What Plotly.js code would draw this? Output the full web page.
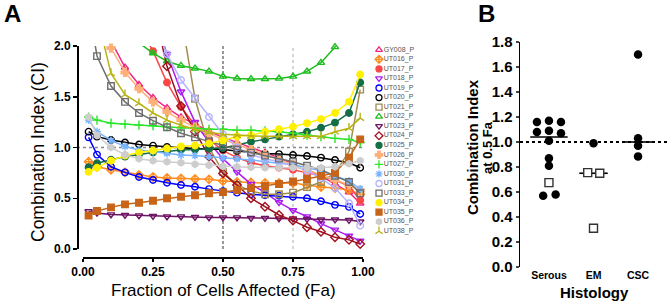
<!DOCTYPE html>
<html>
<head>
<meta charset="utf-8">
<script src="https://cdn.plot.ly/plotly-3.0.1.min.js"></script>
<style>html,body{margin:0;padding:0;background:#fff;}#chart{width:669px;height:301px;}</style>
</head>
<body>
<div id="chart"></div>
<script>
// ---------- Panel A data ----------
const fa = [0.02,0.05,0.10,0.15,0.20,0.25,0.30,0.35,0.40,0.45,0.50,0.55,0.60,0.65,0.70,0.75,0.80,0.85,0.90,0.95,0.99];
const GY008_P = [3.2,2.5,2.05,1.79,1.62,1.49,1.39,1.30,1.23,1.16,1.10,1.05,1.00,0.95,0.90,0.84,0.78,0.72,0.64,0.56,0.45];
const UT016_P = [0.86,0.81,0.78,0.755,0.73,0.71,0.70,0.695,0.69,0.686,0.67,0.66,0.655,0.65,0.65,0.65,0.63,0.61,0.60,0.58,0.54];
const UT017_P = [4.0,3.3,2.8,2.45,2.2,1.95,1.64,1.40,1.22,1.08,0.97,0.90,0.85,0.82,0.80,0.78,0.75,0.72,0.68,0.62,0.48];
const UT018_P = [5.0,4.2,3.6,3.1,2.7,2.35,1.92,1.55,1.25,1.05,0.89,0.76,0.64,0.555,0.46,0.38,0.32,0.25,0.19,0.13,0.08];
const UT019_P = [1.10,0.93,0.81,0.755,0.71,0.68,0.653,0.63,0.614,0.59,0.57,0.555,0.54,0.53,0.525,0.515,0.50,0.47,0.435,0.415,0.345];
const UT020_P = [1.156,1.107,1.074,1.05,1.03,1.018,1.005,0.998,0.99,0.988,0.98,0.965,0.95,0.94,0.935,0.926,0.916,0.90,0.877,0.85,0.80];
const UT021_P = [6.0,5.2,4.6,4.0,3.5,3.0,2.6,2.3,1.48,1.0,0.76,0.63,0.57,0.54,0.54,0.555,0.61,0.66,0.75,0.96,1.57];
const UT022_P = [3.0,2.6,2.3,2.15,2.03,1.93,1.85,1.806,1.78,1.75,1.70,1.68,1.675,1.675,1.68,1.70,1.75,1.835,1.99,2.3,2.8];
const UT023_P = [0.37,0.355,0.34,0.335,0.33,0.325,0.32,0.32,0.315,0.31,0.31,0.31,0.305,0.305,0.30,0.30,0.295,0.29,0.29,0.285,0.27];
const UT024_P = [5.0,4.3,3.7,3.2,2.75,2.4,1.80,1.41,1.155,0.91,0.745,0.63,0.50,0.417,0.335,0.28,0.214,0.17,0.115,0.09,0.05];
const UT025_P = [0.805,0.845,0.88,0.91,0.93,0.95,0.96,0.975,0.98,0.99,0.995,1.025,1.057,1.08,1.107,1.13,1.156,1.195,1.245,1.34,1.64];
const UT026_P = [3.0,2.4,1.98,1.74,1.58,1.45,1.35,1.27,1.20,1.14,1.08,1.03,0.98,0.93,0.88,0.83,0.78,0.73,0.68,0.63,0.58];
const UT027_P = [1.30,1.27,1.24,1.23,1.22,1.215,1.205,1.195,1.19,1.18,1.18,1.17,1.17,1.165,1.155,1.14,1.12,1.107,1.09,1.08,1.05];
const UT030_P = [1.27,1.156,1.07,1.01,0.975,0.96,0.94,0.926,0.92,0.91,0.90,0.89,0.877,0.86,0.845,0.83,0.80,0.77,0.72,0.67,0.59];
const UT031_P = [5.0,4.2,3.5,3.0,2.6,2.25,1.92,1.665,1.485,1.30,1.13,1.0,0.93,0.89,0.86,0.82,0.77,0.70,0.60,0.45,0.23];
const UT033_P = [2.4,1.90,1.606,1.45,1.34,1.264,1.20,1.14,1.10,1.06,1.02,0.98,0.95,0.92,0.89,0.86,0.82,0.78,0.72,0.66,0.55];
const UT034_P = [0.76,0.80,0.87,0.92,0.95,0.97,0.99,1.01,1.02,1.04,1.07,1.11,1.12,1.156,1.18,1.205,1.24,1.28,1.34,1.45,1.72];
const UT035_P = [0.33,0.375,0.41,0.44,0.456,0.476,0.50,0.515,0.53,0.55,0.56,0.58,0.60,0.62,0.64,0.665,0.69,0.72,0.75,0.90,1.08];
const UT036_P = [1.30,1.12,1.0,0.93,0.89,0.87,0.86,0.85,0.835,0.825,0.815,0.81,0.805,0.80,0.80,0.80,0.80,0.80,0.81,0.84,0.87];
const UT038_P = [2.6,2.3,1.73,1.52,1.435,1.34,1.27,1.22,1.18,1.15,1.13,1.12,1.115,1.11,1.11,1.11,1.11,1.11,1.156,1.19,1.29];
const legendNames = ["GY008_P","UT016_P","UT017_P","UT018_P","UT019_P","UT020_P","UT021_P","UT022_P","UT023_P","UT024_P","UT025_P","UT026_P","UT027_P","UT030_P","UT031_P","UT033_P","UT034_P","UT035_P","UT036_P","UT038_P"];
const faTicks = [0,0.25,0.5,0.75,1.0];
const ciTicks = [0,0.5,1.0,1.5,2.0];

// ---------- Panel B data ----------
const histology = ["Serous","EM","CSC"];
const serousCI = [1.16,1.17,1.16,1.08,1.09,1.07,1.01,0.87,0.81,0.675,0.57,0.58];
const serousOpen = [0,0,0,0,0,0,0,0,0,1,0,0];
const serousJitter = [-0.27,0,0.27,-0.27,0,0.27,0,0,0,0,-0.13,0.15];
const emCI = [0.99,0.755,0.75,0.31];
const emOpen = [0,1,1,1];
const emJitter = [0,-0.13,0.14,0];
const cscCI = [1.70,1.03,0.97,0.885];
const cscOpen = [0,0,0,0];
const cscJitter = [0,0,0,0];
const groupMedian = [1.04,0.75,1.0];
const bTicks = [0,0.2,0.4,0.6,0.8,1.0,1.2,1.4,1.6,1.8];

// ---------- styles ----------
const dataByName = {GY008_P,UT016_P,UT017_P,UT018_P,UT019_P,UT020_P,UT021_P,UT022_P,UT023_P,UT024_P,UT025_P,UT026_P,UT027_P,UT030_P,UT031_P,UT033_P,UT034_P,UT035_P,UT036_P,UT038_P};
const style = {
  GY008_P:{c:'rgb(240,40,130)', s:'triangle-up-open'},
  UT016_P:{c:'rgb(255,140,30)', s:'diamond-cross-open'},
  UT017_P:{c:'rgb(250,70,70)', s:'circle'},
  UT018_P:{c:'rgb(170,30,240)', s:'triangle-down-open'},
  UT019_P:{c:'rgb(0,0,255)', s:'circle-open'},
  UT020_P:{c:'rgb(0,0,0)', s:'circle-open'},
  UT021_P:{c:'rgb(160,140,80)', s:'square-open'},
  UT022_P:{c:'rgb(30,190,30)', s:'triangle-up-open'},
  UT023_P:{c:'rgb(110,20,100)', s:'triangle-down-open'},
  UT024_P:{c:'rgb(160,16,30)', s:'diamond-open'},
  UT025_P:{c:'rgb(20,110,70)', s:'circle'},
  UT026_P:{c:'rgb(255,175,120)', s:'cross'},
  UT027_P:{c:'rgb(40,230,40)', s:'cross-thin-open'},
  UT030_P:{c:'rgb(120,180,255)', s:'asterisk-open'},
  UT031_P:{c:'rgb(180,180,255)', s:'circle-open'},
  UT033_P:{c:'rgb(110,110,110)', s:'square-open'},
  UT034_P:{c:'rgb(255,240,0)', s:'circle'},
  UT035_P:{c:'rgb(200,100,25)', s:'square'},
  UT036_P:{c:'rgb(205,205,205)', s:'hexagon'},
  UT038_P:{c:'rgb(185,180,20)', s:'y-up-open'}
};

const W = 669, H = 301;
const px = v => v / W;
const py = v => 1 - v / H;
const FONT = 'Liberation Sans, Arial, sans-serif';

const traces = [];
legendNames.forEach(name => {
  const st = style[name];
  traces.push({
    type:'scatter', mode:'lines+markers', x: fa, y: dataByName[name], name: name,
    xaxis:'x', yaxis:'y', cliponaxis:false,
    line:{color: st.c, width:1.5},
    marker:{symbol: st.s, size:6.5, color: st.c, line:{color: st.c, width:1.4}},
    showlegend:false, hoverinfo:'skip'
  });
});
// legend built on its own small axis pair
legendNames.forEach(name => {
  const st = style[name];
  traces.push({
    type:'scatter', mode:'markers+text', x:[0], y:[name], text:[name],
    xaxis:'x3', yaxis:'y3', cliponaxis:false,
    textposition:'middle right', textfont:{size:7, color:'#555', family:FONT},
    marker:{symbol: st.s, size:6, color: st.c, line:{color: st.c, width:1.3}},
    showlegend:false, hoverinfo:'skip'
  });
});

// Panel B
function groupTraces(vals, jit, open, gi){
  const xf = [], yf = [], xo = [], yo = [];
  vals.forEach((v,i) => {
    if (open[i]) { xo.push(gi + jit[i]); yo.push(v); }
    else { xf.push(gi + jit[i]); yf.push(v); }
  });
  traces.push({type:'scatter', mode:'markers', x:xf, y:yf, xaxis:'x2', yaxis:'y2', cliponaxis:false,
    marker:{symbol:'circle', size:8.5, color:'#000'}, showlegend:false, hoverinfo:'skip'});
  if (xo.length) traces.push({type:'scatter', mode:'markers', x:xo, y:yo, xaxis:'x2', yaxis:'y2', cliponaxis:false,
    marker:{symbol:'square', size:8, color:'#fff', line:{color:'#333', width:1.4}}, showlegend:false, hoverinfo:'skip'});
}
const medianHalf = [0.42,0.32,0.33];
groupMedian.forEach((m,gi) => {
  traces.push({type:'scatter', mode:'lines', x:[gi-medianHalf[gi], gi+medianHalf[gi]], y:[m,m], xaxis:'x2', yaxis:'y2',
    line:{color:'#000', width:1.6}, showlegend:false, hoverinfo:'skip'});
});
groupTraces(serousCI, serousJitter, serousOpen, 0);
groupTraces(emCI, emJitter, emOpen, 1);
groupTraces(cscCI, cscJitter, cscOpen, 2);

function ann(text, x, y, size, angle){
  return {text:text, xref:'paper', yref:'paper', x:px(x), y:py(y), xanchor:'center', yanchor:'middle',
    showarrow:false, textangle:angle||0, font:{size:size}};
}

const layout = {
  width:W, height:H, margin:{l:0,r:0,t:0,b:0, autoexpand:false},
  paper_bgcolor:'#fff', plot_bgcolor:'rgba(0,0,0,0)', showlegend:false,
  font:{family:FONT, color:'#000'},
  xaxis:{domain:[px(83), px(363)], range:[0,1], anchor:'free', position:py(257),
    showline:true, linewidth:1.5, linecolor:'#000', ticks:'outside', ticklen:3, tickwidth:1.5, tickcolor:'#000',
    tickvals:faTicks, tickformat:'.2f', tickfont:{size:12, weight:'bold'}, showgrid:false, zeroline:false, fixedrange:true},
  yaxis:{domain:[py(249), py(46)], range:[0,2], anchor:'free', position:px(77),
    showline:true, linewidth:1.5, linecolor:'#000', ticks:'outside', ticklen:4, tickwidth:1.5, tickcolor:'#000',
    tickvals:ciTicks, tickformat:'.1f', tickfont:{size:12, weight:'bold'}, showgrid:false, zeroline:false, fixedrange:true},
  xaxis2:{domain:[px(520), px(667)], range:[-0.65,2.65], anchor:'y2', showline:false, ticks:'',
    tickvals:[0,1,2], ticktext:histology, tickfont:{size:10.5, weight:'bold'}, showgrid:false, zeroline:false},
  yaxis2:{domain:[py(267), py(42)], range:[0,1.8], anchor:'x2', showline:true, linewidth:1.5, linecolor:'#000',
    ticks:'outside', ticklen:3, tickwidth:1.5, tickvals:bTicks, tickformat:'.1f', tickfont:{size:15, weight:'bold'},
    showgrid:false, zeroline:false},
  xaxis3:{domain:[px(379), px(440)], range:[0,1], anchor:'y3', visible:false},
  yaxis3:{domain:[py(236), py(45)], type:'category', categoryarray:legendNames, range:[19.5,-0.5], anchor:'x3', visible:false},
  shapes:[
    {type:'line', xref:'x', yref:'y', x0:0.5, x1:0.5, y0:0, y1:2, layer:'below', line:{color:'#333', width:1, dash:'3px,2px'}},
    {type:'line', xref:'x', yref:'y', x0:0.75, x1:0.75, y0:0, y1:2, layer:'below', line:{color:'#aaa', width:1, dash:'dot'}},
    {type:'line', xref:'paper', yref:'y', x0:px(77), x1:px(363), y0:1, y1:1, layer:'below', line:{color:'#888', width:1.3, dash:'dot'}},
    {type:'line', xref:'paper', yref:'y2', x0:px(520), x1:px(667), y0:1, y1:1, layer:'below', line:{color:'#000', width:2, dash:'dot'}}
  ],
  annotations:[
    ann('<b>A</b>', 12, 14, 24),
    ann('<b>B</b>', 487, 14, 24),
    ann('Combination Index (CI)', 38, 152, 17.5, -90),
    ann('Fraction of Cells Affected (Fa)', 223, 290, 17),
    ann('<b>Combination Index</b>', 472, 147, 15, -90),
    ann('<b>at 0.5 Fa</b>', 487, 147, 13, -90),
    ann('<b>Histology</b>', 594, 292, 15)
  ]
};

Plotly.newPlot('chart', traces, layout, {staticPlot:true, displayModeBar:false});
</script>
</body>
</html>
